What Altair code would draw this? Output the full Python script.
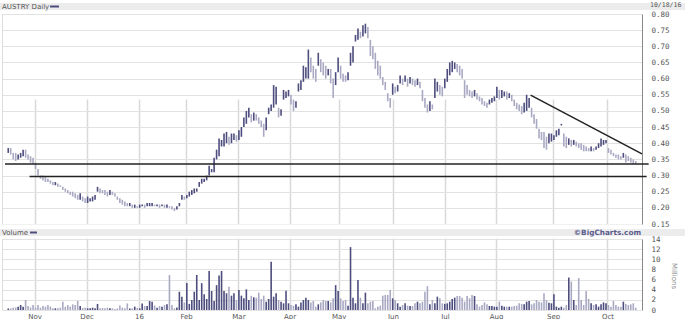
import altair as alt
import pandas as pd

# ---------------- data ----------------
lows = [0.37,0.365,0.35,0.345,0.35,0.355,0.36,0.355,0.35,0.34,0.335,
        0.32,0.30,0.29,0.285,0.28,0.28,0.275,0.27,0.27,0.265,
        0.265,0.255,0.25,0.245,0.24,0.235,0.23,0.225,0.225,0.22,
        0.215,0.215,0.22,0.22,0.225,0.25,0.245,0.245,0.24,0.235,
        0.24,0.24,0.235,0.225,0.215,0.21,0.205,0.205,0.205,0.20,
        0.20,0.20,0.20,0.205,0.20,0.205,0.205,0.205,0.205,0.205,
        0.20,0.205,0.20,0.20,0.20,0.195,0.19,0.195,0.205,0.225,
        0.225,0.23,0.235,0.24,0.245,0.25,0.265,0.275,0.28,0.285,
        0.30,0.31,0.31,0.35,0.36,0.39,0.39,0.40,0.395,0.40,
        0.41,0.405,0.41,0.42,0.45,0.46,0.48,0.465,0.47,0.47,
        0.46,0.45,0.42,0.44,0.49,0.50,0.51,0.52,0.48,0.485,
        0.535,0.54,0.545,0.52,0.50,0.51,0.56,0.565,0.59,0.60,
        0.60,0.62,0.60,0.59,0.64,0.62,0.61,0.60,0.61,0.585,
        0.54,0.58,0.62,0.60,0.59,0.59,0.595,0.64,0.65,0.715,
        0.72,0.725,0.73,0.74,0.725,0.67,0.66,0.63,0.61,0.60,
        0.58,0.565,0.53,0.51,0.55,0.555,0.56,0.585,0.58,0.59,
        0.575,0.585,0.58,0.575,0.58,0.57,0.53,0.51,0.495,0.50,
        0.505,0.54,0.56,0.55,0.545,0.57,0.59,0.61,0.62,0.63,
        0.62,0.61,0.60,0.54,0.55,0.545,0.54,0.545,0.535,0.53,
        0.52,0.515,0.51,0.52,0.525,0.53,0.54,0.535,0.54,0.545,
        0.535,0.54,0.53,0.515,0.505,0.50,0.49,0.495,0.50,0.51,
        0.48,0.46,0.445,0.415,0.41,0.385,0.38,0.40,0.405,0.41,
        0.42,0.425,0.455,0.39,0.385,0.395,0.39,0.395,0.39,0.385,
        0.38,0.375,0.375,0.375,0.375,0.375,0.38,0.385,0.39,0.395,
        0.40,0.37,0.365,0.36,0.355,0.35,0.35,0.355,0.34,0.345,
        0.34,0.335,0.335]
highs = [0.385,0.385,0.37,0.37,0.365,0.37,0.38,0.38,0.365,0.36,0.355,
         0.34,0.32,0.30,0.30,0.295,0.29,0.285,0.28,0.28,0.275,
         0.27,0.265,0.26,0.255,0.25,0.25,0.245,0.24,0.245,0.235,
         0.23,0.235,0.23,0.235,0.24,0.265,0.26,0.255,0.255,0.25,
         0.255,0.25,0.245,0.235,0.23,0.225,0.22,0.215,0.215,0.21,
         0.21,0.205,0.21,0.21,0.21,0.215,0.215,0.215,0.21,0.21,
         0.21,0.21,0.21,0.21,0.205,0.205,0.20,0.205,0.215,0.24,
         0.235,0.24,0.25,0.255,0.26,0.26,0.28,0.29,0.29,0.30,
         0.33,0.32,0.355,0.38,0.415,0.41,0.43,0.435,0.42,0.43,
         0.43,0.425,0.44,0.45,0.48,0.50,0.51,0.49,0.495,0.49,
         0.48,0.47,0.46,0.48,0.51,0.52,0.58,0.575,0.51,0.505,
         0.565,0.56,0.565,0.55,0.535,0.53,0.585,0.595,0.64,0.635,
         0.69,0.665,0.64,0.63,0.68,0.66,0.65,0.64,0.63,0.63,
         0.60,0.62,0.665,0.64,0.615,0.61,0.62,0.68,0.70,0.735,
         0.755,0.745,0.765,0.77,0.76,0.72,0.70,0.68,0.655,0.64,
         0.605,0.59,0.555,0.54,0.585,0.575,0.58,0.61,0.60,0.61,
         0.60,0.605,0.60,0.595,0.60,0.59,0.565,0.54,0.52,0.53,
         0.52,0.60,0.59,0.58,0.575,0.60,0.63,0.65,0.655,0.65,
         0.645,0.64,0.63,0.595,0.58,0.565,0.56,0.565,0.555,0.545,
         0.54,0.53,0.525,0.535,0.54,0.545,0.575,0.565,0.565,0.56,
         0.56,0.555,0.55,0.535,0.525,0.52,0.515,0.525,0.55,0.54,
         0.51,0.49,0.475,0.445,0.435,0.435,0.42,0.43,0.43,0.425,
         0.44,0.445,0.46,0.43,0.42,0.415,0.41,0.41,0.405,0.40,
         0.40,0.395,0.39,0.385,0.39,0.385,0.39,0.40,0.415,0.41,
         0.41,0.385,0.38,0.37,0.365,0.365,0.36,0.37,0.365,0.36,
         0.355,0.35,0.345]
volumes = [0.3,0.33,0.46,0.5,0.66,0.99,0.66,1.97,0.79,0.5,
           0.99,0.46,0.99,0.46,0.79,0.66,0.99,0.66,0.33,0.33,
           0.33,0.46,1.64,0.66,0.99,0.66,1.12,0.99,1.78,0.79,
           0.4,0.46,0.33,0.33,0.46,0.33,1.2,0.33,0.4,0.33,
           0.46,0.33,0.33,0.2,0.3,0.9,0.46,0.33,1.3,0.3,
           0.33,0.66,0.4,0.33,1.3,0.79,0.79,1.78,1.64,0.9,
           0.46,0.79,0.66,0.99,1.12,6.9,0.99,0.33,0.5,3.6,
           2.6,1.5,5.3,1.2,1.97,3.6,6.9,1.97,5.3,3.1,
           2.17,7.7,3.75,1.78,4.9,6.8,7.7,3.75,3.3,4.6,
           2.83,
           3.3,1.97,3.95,2.83,2.3,4.07,1.97,2.8,2.5,2.43,
           3.42,2.17,2.83,1.64,2.17,9.5,2.63,3.3,1.97,1.64,
           1.32,3.8,1.32,0.99,0.85,1.12,0.66,1.5,1.97,2.43,
           1.97,1.5,1.78,0.66,1.12,1.5,1.97,1.78,1.78,1.5,
           2.3,4.9,3.75,2.3,1.78,1.97,0.85,12.4,2.43,1.32,
           5.9,2.43,1.32,3.42,1.32,1.64,1.78,0.33,0.66,0.85,
           2.83,2.96,2.96,3.95,2.3,1.97,1.32,0.66,0.99,1.32,
           0.85,0.79,0.79,1.32,1.64,1.32,1.64,3.6,4.7,1.12,
           1.97,1.32,2.63,2.3,1.32,1.2,1.32,1.64,2.17,2.43,
           2.77,
           2.77,2.43,1.64,2.77,2.3,2.96,2.77,1.12,0.66,0.99,
           1.5,1.12,0.79,0.79,0.66,0.66,1.64,0.85,0.66,0.66,
           0.66,0.66,0.79,0.85,1.32,1.2,1.12,1.64,1.78,1.12,
           1.32,1.97,1.64,1.5,3.3,1.97,1.45,1.32,3.1,0.66,
           0.46,0.66,0.46,0.99,6.4,5.6,1.97,0.99,6.3,1.97,
           0.99,3.75,2.17,1.32,0.99,1.12,0.66,1.12,1.5,1.32,
           0.99,0.66,1.78,0.99,0.66,0.66,1.64,1.2,0.99,1.12,
           1.32,0.46]

month_pos = [10.6, 31.6, 52.7, 71.7, 92.8, 113.4, 133.2, 155.1, 176.1, 196.7, 219.7, 241.6]
month_lbl = ["Nov", "Dec", "16", "Feb", "Mar", "Apr", "May", "Jun", "Jul", "Aug", "Sep", "Oct"]
price_ticks = [0.15, 0.20, 0.25, 0.30, 0.35, 0.40, 0.45, 0.50, 0.55, 0.60, 0.65, 0.70, 0.75, 0.80]
vol_ticks = [0, 2, 4, 6, 8, 10, 12, 14]

# drawn trend lines (start index, end index, start price, end price)
line_x1 = [-1.3, 8.6, 210.6]
line_x2 = [258.2, 257.4, 255.5]
line_y1 = [0.336, 0.297, 0.549]
line_y2 = [0.336, 0.297, 0.367]

# ---------------- tables ----------------
n = len(lows)
mids = [(a + b) / 2 for a, b in zip(lows, highs)]
direction = ["up"] + ["up" if mids[k] >= mids[k - 1] else "down" for k in range(1, n)]
df = pd.DataFrame({"i": list(range(n)), "low": lows, "high": highs,
                   "vol": volumes, "dir": direction})
lines = pd.DataFrame({"x1": line_x1, "x2": line_x2, "y1": line_y1, "y2": line_y2})
one = pd.DataFrame({"k": [0]})

NAVY = "#4d4d7e"
GRAY = "#a9a9c4"
TXT = "#555555"
FONT = "DejaVu Sans"
MONO = "DejaVu Sans Mono"

W, H = 640, 297
P_RANGE = [211, 1]
V_RANGE = [297, 226]

xs = alt.Scale(domain=[-0.5, 253.5], nice=False, zero=False)
ps = alt.Scale(domain=[0.15, 0.80], range=P_RANGE, nice=False, zero=False)
vs = alt.Scale(domain=[0, 14], range=V_RANGE, nice=False)
cs = alt.Scale(domain=["up", "down"], range=[NAVY, GRAY])

label_expr = "[" + ",".join("'%s'" % m for m in month_lbl) + "][indexof([" + \
    ",".join(str(p) for p in month_pos) + "], datum.value)]"


def x_axis():
    return alt.Axis(values=month_pos, labelExpr=label_expr, grid=True,
                    gridColor="#d9d9d9", gridWidth=1.5, ticks=False, domain=False,
                    labelFont=FONT, labelFontSize=7, labelColor=TXT, labelPadding=2,
                    labelFlush=False, title=None)


price_bars = alt.Chart(df).mark_bar(width=1.6).encode(
    x=alt.X("i:Q", scale=xs, axis=x_axis()),
    y=alt.Y("low:Q", scale=ps, axis=alt.Axis(
        orient="right", values=price_ticks, format=".2f", grid=True,
        gridColor="#e2e2e2", ticks=False, domainColor="#888888", domainWidth=1,
        labelFont=MONO, labelFontSize=7.5, labelColor=TXT, labelPadding=9,
        title=None)),
    y2="high:Q",
    color=alt.Color("dir:N", scale=cs, legend=None),
)

vol_bars = alt.Chart(df).mark_bar(width=1.6).encode(
    x=alt.X("i:Q", scale=xs, axis=x_axis()),
    y=alt.Y("vol:Q", scale=vs, axis=alt.Axis(
        orient="right", values=vol_ticks, format="d", grid=True,
        gridColor="#e2e2e2", ticks=False, domainColor="#888888", domainWidth=1,
        labelFont=MONO, labelFontSize=7.5, labelColor=TXT, labelPadding=9,
        title="Millions", titleAngle=90, titleX=31, titleY=262.5,
        titleAlign="center", titleBaseline="middle", titleFont=FONT,
        titleFontSize=7, titleFontWeight="normal", titleColor="#888888")),
    color=alt.Color("dir:N", scale=cs, legend=None),
)

# white gap between the panels and the grey title bands
gap = alt.Chart(one).mark_rect(color="white").encode(
    x=alt.value(-1), x2=alt.value(W), y=alt.value(211.5), y2=alt.value(225.5))
band_top = alt.Chart(one).mark_rect(color="#ececec").encode(
    x=alt.value(-2), x2=alt.value(683), y=alt.value(-10), y2=alt.value(-3))
band_vol = alt.Chart(one).mark_rect(color="#ececec").encode(
    x=alt.value(-2), x2=alt.value(683), y=alt.value(216), y2=alt.value(223))

left_edge = alt.Chart(one).mark_rule(color="#dddddd", strokeWidth=1).encode(
    x=alt.value(0.5), y=alt.value(1), y2=alt.value(211))
left_edge2 = alt.Chart(one).mark_rule(color="#dddddd", strokeWidth=1).encode(
    x=alt.value(0.5), y=alt.value(226), y2=alt.value(297))

trend = alt.Chart(lines).mark_rule(color="#222222", strokeWidth=1.5).encode(
    x=alt.X("x1:Q", scale=xs, axis=x_axis()), x2="x2:Q",
    y=alt.Y("y1:Q", scale=ps, axis=None), y2="y2:Q")

title_txt = alt.Chart(one).mark_text(align="left", baseline="middle", font=FONT,
                                     fontSize=7, color=TXT).encode(
    x=alt.value(0), y=alt.value(-6.5), text=alt.value("AUSTRY Daily"))
title_dash = alt.Chart(one).mark_rule(color=NAVY, strokeWidth=2).encode(
    x=alt.value(48), x2=alt.value(57), y=alt.value(-6.5))
date_txt = alt.Chart(one).mark_text(align="left", baseline="middle", font=MONO,
                                    fontSize=6.5, color=TXT).encode(
    x=alt.value(648), y=alt.value(-8), text=alt.value("10/18/16"))
vol_txt = alt.Chart(one).mark_text(align="left", baseline="middle", font=FONT,
                                   fontSize=7, color=TXT).encode(
    x=alt.value(0), y=alt.value(219.5), text=alt.value("Volume"))
vol_dash = alt.Chart(one).mark_rule(color=NAVY, strokeWidth=2).encode(
    x=alt.value(28), x2=alt.value(35), y=alt.value(219.5))
brand_txt = alt.Chart(one).mark_text(align="right", baseline="middle", font=FONT,
                                     fontSize=7.3, fontWeight="bold",
                                     color="#5b5b8c").encode(
    x=alt.value(639), y=alt.value(219.5), text=alt.value("\u00a9BigCharts.com"))

chart = alt.layer(
    price_bars, vol_bars, trend, gap, band_top, band_vol, left_edge, left_edge2,
    title_txt, title_dash, date_txt, vol_txt, vol_dash, brand_txt,
).resolve_scale(y="independent").properties(
    width=W, height=H,
    autosize=alt.AutoSizeParams(type="none"),
    padding={"left": 2, "top": 13, "right": 43, "bottom": 9},
    background="white",
).configure_view(stroke=None)

chart.save("out.html", embed_options={"renderer": "svg", "actions": False})
